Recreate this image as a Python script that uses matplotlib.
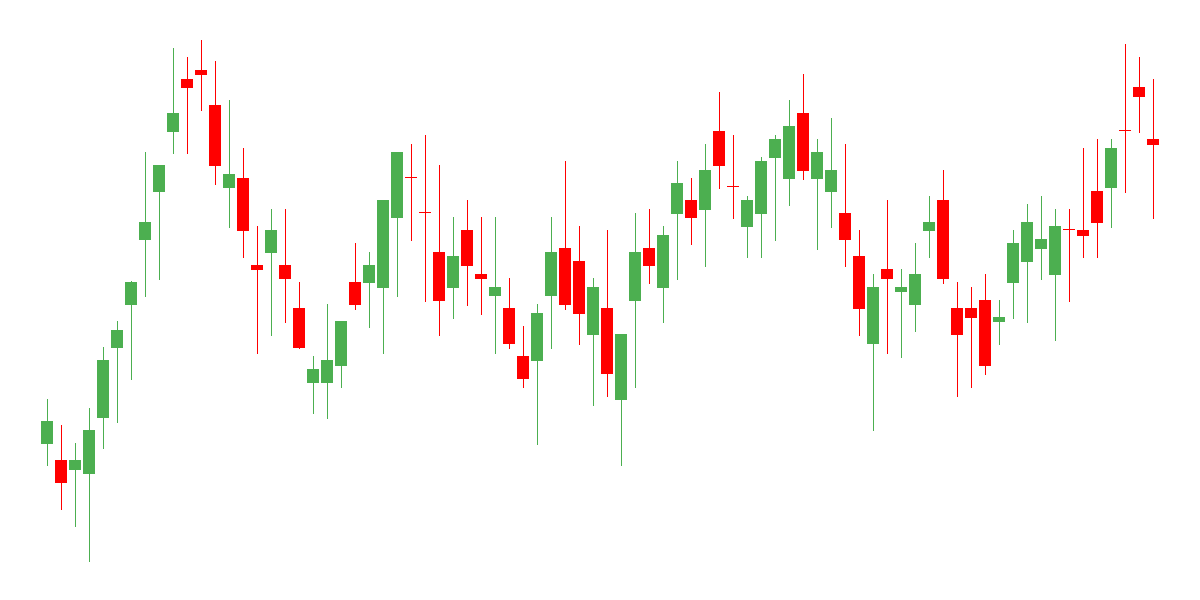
import matplotlib
matplotlib.use('Agg')
import matplotlib.pyplot as plt
import numpy as np

# OHLC values (arbitrary price units)
opens = [156, 140, 130, 126, 182, 252, 295, 360, 408, 468,
         521, 530, 495, 412, 422, 335, 347, 335, 292, 217,
         217, 234, 318, 317, 312, 382, 422, 387, 348, 312,
         370, 326, 304, 292, 244, 239, 304, 352, 339, 265,
         292, 200, 299, 352, 312, 386, 400, 390, 469, 413,
         373, 386, 442, 421, 487, 421, 408, 387, 344, 256,
         331, 308, 295, 369, 400, 292, 292, 300, 278, 317,
         338, 351, 325, 370, 370, 409, 412, 469, 513, 461]
highs = [201, 175, 157, 192, 253, 279, 319, 448, 435, 552,
         543, 560, 539, 500, 452, 374, 391, 391, 318, 244,
         296, 279, 357, 348, 400, 448, 456, 465, 435, 383,
         400, 383, 383, 322, 274, 296, 383, 439, 374, 322,
         370, 266, 387, 391, 374, 439, 422, 456, 508, 465,
         404, 443, 465, 500, 526, 461, 482, 456, 370, 326,
         400, 331, 357, 404, 430, 318, 313, 326, 300, 370,
         396, 404, 391, 391, 452, 461, 461, 556, 543, 521]
lows = [135, 91, 74, 39, 152, 178, 221, 304, 321, 447,
        447, 490, 416, 373, 343, 247, 265, 278, 252, 187,
        182, 213, 291, 273, 247, 304, 360, 299, 265, 282,
        295, 286, 247, 252, 213, 156, 252, 291, 256, 195,
        204, 135, 213, 317, 278, 321, 356, 334, 412, 382,
        343, 343, 360, 395, 421, 351, 373, 334, 265, 170,
        247, 243, 269, 343, 317, 204, 213, 226, 256, 282,
        278, 321, 260, 299, 343, 343, 373, 408, 468, 382]
closes = [179, 117, 140, 170, 240, 270, 318, 378, 435, 487,
          512, 525, 434, 426, 369, 330, 370, 321, 252, 231,
          240, 279, 295, 335, 400, 448, 422, 387, 299, 344,
          334, 321, 313, 256, 221, 287, 348, 295, 286, 313,
          226, 266, 348, 334, 365, 417, 382, 430, 434, 413,
          400, 439, 461, 474, 429, 448, 430, 360, 291, 313,
          321, 313, 326, 378, 321, 265, 282, 234, 283, 357,
          378, 361, 374, 370, 364, 377, 452, 469, 503, 455]

up_color = '#4CAF50'
down_color = '#FF0000'

o = np.array(opens)
h = np.array(highs)
l = np.array(lows)
c = np.array(closes)
x = np.arange(len(o))
colors = [up_color if cc > oo else down_color for oo, cc in zip(o, c)]

fig = plt.figure(figsize=(12, 6), dpi=100)
ax = fig.add_axes([0, 0, 1, 1])

# wicks: crisp 1px lines in the candle colour
ax.vlines(x, l, h, colors=colors, linewidth=0.72, antialiased=False, zorder=1)
bottoms = np.minimum(o, c)
heights = np.maximum(np.abs(c - o), 1.5)
ax.bar(x, heights, bottom=bottoms, width=0.79, color=colors, linewidth=0, zorder=2)

ax.set_xlim(-47 / 14, -47 / 14 + 1200 / 14)
ax.set_ylim(0, 600)
ax.axis('off')

fig.savefig('out.png', dpi=100, facecolor='white')
